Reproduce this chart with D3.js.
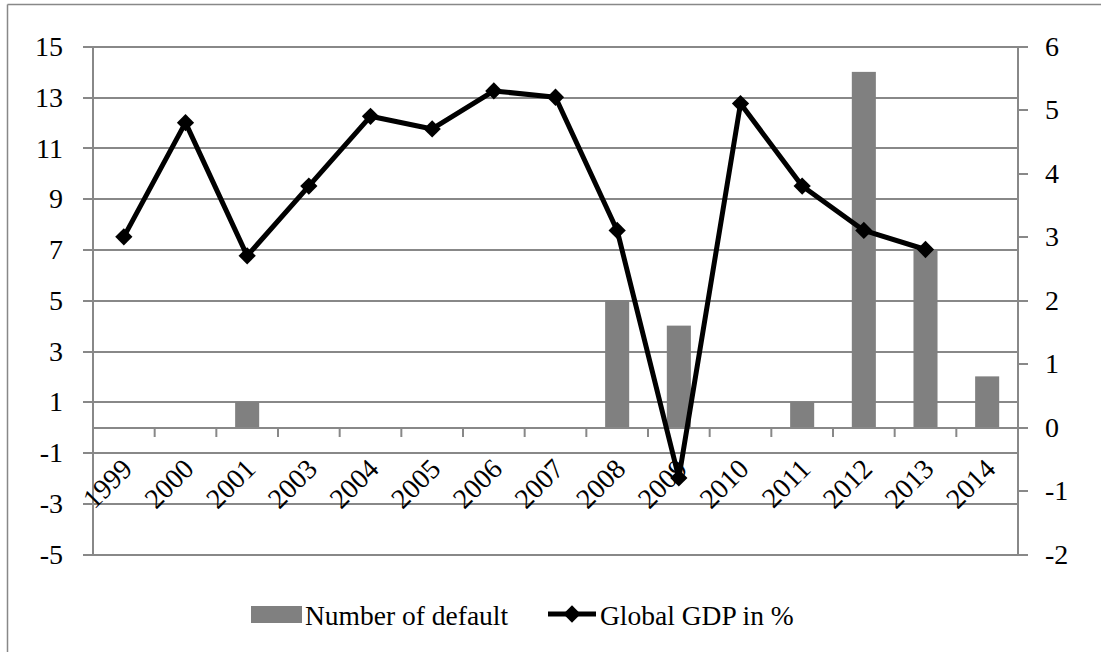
<!DOCTYPE html>
<html>
<head>
<meta charset="utf-8">
<script src="https://cdn.jsdelivr.net/npm/d3@7"></script>
<style>
  body { margin: 0; background: #fff; }
</style>
</head>
<body>
<div id="chart"></div>
<script>
// categories (no 2002 in the source)
var years = ["1999","2000","2001","2003","2004","2005","2006","2007","2008","2009","2010","2011","2012","2013","2014"];
// number of defaults (left axis), 0 = no bar
var defaults = [0,0,1,0,0,0,0,0,5,4,0,1,14,7,2];
// global GDP growth in % (right axis), null = no point
var gdp = [3.0,4.8,2.7,3.8,4.9,4.7,5.3,5.2,3.1,-0.8,5.1,3.8,3.1,2.8,null];
var leftTicks = [-5,-3,-1,1,3,5,7,9,11,13,15];
var rightTicks = [-2,-1,0,1,2,3,4,5,6];

var W = 1101, H = 652;
var margin = {top: 46.5, right: 83, bottom: 98, left: 93};
var width = W - margin.left - margin.right,
    height = H - margin.top - margin.bottom;
var serif = "'Liberation Serif', 'Times New Roman', serif";

var svg = d3.select("#chart").append("svg")
  .attr("width", W).attr("height", H)
  .style("font-family", serif);

// outer frame (only top and left visible in the crop)
svg.append("line").attr("x1", 7.5).attr("x2", W).attr("y1", 4.5).attr("y2", 4.5)
  .attr("stroke", "#888").attr("stroke-width", 1.5);
svg.append("line").attr("x1", 7.5).attr("x2", 7.5).attr("y1", 4.5).attr("y2", H)
  .attr("stroke", "#888").attr("stroke-width", 1.5);

var g = svg.append("g").attr("transform", "translate(" + margin.left + "," + margin.top + ")");

var x = d3.scaleBand().domain(years).range([0, width]).paddingInner(0.61).paddingOuter(0.305);
var xb = d3.scaleBand().domain(years).range([0, width]);
var yL = d3.scaleLinear().domain([-5, 15]).range([height, 0]);
var yR = d3.scaleLinear().domain([-2, 6]).range([height, 0]);
var grid = "#888";

// gridlines + left ticks
g.append("g").selectAll("line").data(leftTicks).enter().append("line")
  .attr("x1", -10).attr("x2", width)
  .attr("y1", function(d){ return Math.round(yL(d)) + 0.5; })
  .attr("y2", function(d){ return Math.round(yL(d)) + 0.5; })
  .attr("stroke", grid).attr("stroke-width", 2);

g.append("g").selectAll("text").data(leftTicks).enter().append("text")
  .attr("x", -30).attr("y", function(d){ return yL(d); })
  .attr("dy", "0.34em").attr("text-anchor", "end")
  .style("font-size", "28px").text(function(d){ return d; });

// axis lines
g.append("line").attr("x1", 0).attr("x2", 0).attr("y1", 0).attr("y2", height)
  .attr("stroke", grid).attr("stroke-width", 2);
g.append("line").attr("x1", width).attr("x2", width).attr("y1", 0).attr("y2", height)
  .attr("stroke", grid).attr("stroke-width", 2);

// right ticks
g.append("g").selectAll("line").data(rightTicks).enter().append("line")
  .attr("x1", width).attr("x2", width + 10)
  .attr("y1", function(d){ return Math.round(yR(d)) + 0.5; })
  .attr("y2", function(d){ return Math.round(yR(d)) + 0.5; })
  .attr("stroke", grid).attr("stroke-width", 2);
g.append("g").selectAll("text").data(rightTicks).enter().append("text")
  .attr("x", width + 27).attr("y", function(d){ return yR(d); })
  .attr("dy", "0.34em").attr("text-anchor", "start")
  .style("font-size", "28px").text(function(d){ return d; });

// bars
g.append("g").selectAll("rect").data(years.map(function(y, i){ return {y: y, v: defaults[i]}; }))
  .enter().append("rect")
  .attr("x", function(d){ return x(d.y); })
  .attr("width", x.bandwidth())
  .attr("y", function(d){ return yL(Math.max(0, d.v)); })
  .attr("height", function(d){ return Math.abs(yL(d.v) - yL(0)); })
  .attr("fill", "#808080");

// category axis at zero
var y0 = Math.round(yL(0)) + 0.5;
g.append("line").attr("x1", 0).attr("x2", width).attr("y1", y0).attr("y2", y0)
  .attr("stroke", grid).attr("stroke-width", 2);
var bounds = years.slice(1).map(function(d){ return xb(d); });
g.append("g").selectAll("line").data(bounds).enter().append("line")
  .attr("x1", function(d){ return d; }).attr("x2", function(d){ return d; })
  .attr("y1", y0).attr("y2", y0 + 9)
  .attr("stroke", grid).attr("stroke-width", 2);

g.append("g").selectAll("text").data(years).enter().append("text")
  .attr("transform", function(d){
    return "translate(" + (xb(d) + xb.bandwidth() / 2 + 10) + "," + (y0 + 42.5) + ") rotate(-45)";
  })
  .attr("text-anchor", "end").style("font-size", "28px").text(function(d){ return d; });

// GDP line
var pts = years.map(function(y, i){ return {y: y, v: gdp[i]}; }).filter(function(d){ return d.v !== null; });
var line = d3.line()
  .x(function(d){ return xb(d.y) + xb.bandwidth() / 2; })
  .y(function(d){ return yR(d.v); });
g.append("path").datum(pts).attr("d", line)
  .attr("fill", "none").attr("stroke", "#000").attr("stroke-width", 5)
  .attr("stroke-linejoin", "round");
var diamond = d3.symbol().type(d3.symbolDiamond2).size(190);
g.append("g").selectAll("path").data(pts).enter().append("path")
  .attr("transform", function(d){
    return "translate(" + (xb(d.y) + xb.bandwidth() / 2) + "," + yR(d.v) + ")";
  })
  .attr("d", diamond).attr("fill", "#000");

// legend
var lg = svg.append("g");
lg.append("rect").attr("x", 251).attr("y", 606).attr("width", 51).attr("height", 17).attr("fill", "#808080");
lg.append("text").attr("x", 305).attr("y", 625).style("font-size", "27.5px").text("Number of default");
lg.append("line").attr("x1", 548).attr("x2", 596).attr("y1", 614).attr("y2", 614)
  .attr("stroke", "#000").attr("stroke-width", 5);
lg.append("path").attr("transform", "translate(572,614)").attr("d", diamond).attr("fill", "#000");
lg.append("text").attr("x", 600).attr("y", 625).style("font-size", "27.5px").text("Global GDP in %");
</script>
</body>
</html>
